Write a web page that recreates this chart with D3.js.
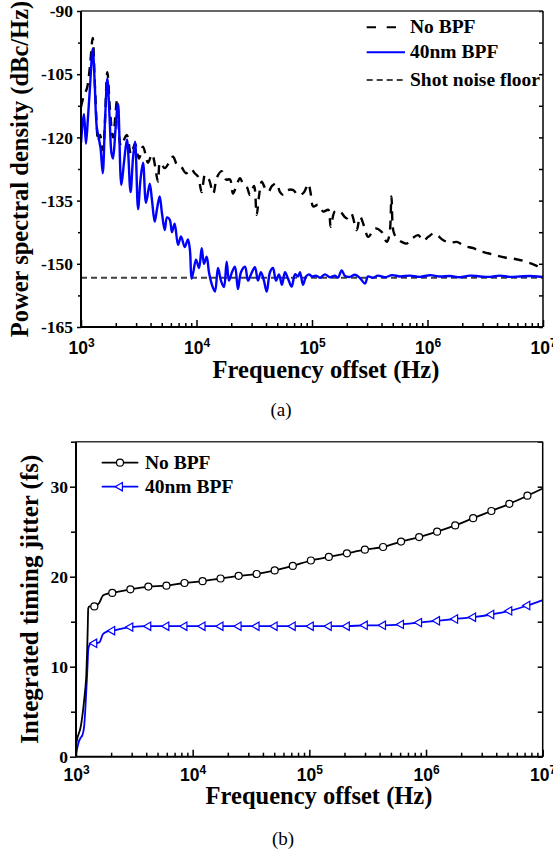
<!DOCTYPE html>
<html>
<head>
<meta charset="utf-8">
<script src="https://cdn.jsdelivr.net/npm/d3@7"></script>
<style>
  body { margin: 0; background: #fff; }
  svg { display: block; font-family: "Liberation Serif", "Times New Roman", serif; }
</style>
</head>
<body>
<div id="chart"></div>
<script>
// frequency offsets are stored as log10(Hz)

// (a) phase noise PSD
const psdLogF_noBPF = [3.000,3.026,3.052,3.078,3.101,3.121,3.150,3.165,3.190,3.228,3.251,3.277,3.314,3.346,3.396,3.433,3.468,3.502,3.537,3.580,3.615,3.667,3.684,3.725,3.762,3.797,3.831,3.868,3.909,3.952,3.984,4.013,4.045,4.074,4.108,4.145,4.177,4.218,4.255,4.290,4.316,4.351,4.377,4.403,4.435,4.463,4.498,4.521,4.541,4.565,4.593,4.622,4.654,4.694,4.723,4.752,4.792,4.838,4.870,4.896,4.931,4.968,4.987,5.011,5.052,5.098,5.141,5.162,5.199,5.242,5.300,5.338,5.387,5.416,5.450,5.487,5.545,5.603,5.647,5.671,5.688,5.706,5.736,5.777,5.820,5.866,5.920,5.961,6.007,6.056,6.137,6.195,6.253,6.325,6.397,6.455,6.526,6.593,6.671,6.749,6.829,6.905,6.974,7.000];
const psd_noBPF = [-112.8,-110,-108.3,-103,-96.4,-108,-121,-119.4,-123,-104.5,-113.5,-120,-111,-122,-119.4,-124,-121.5,-125,-122.2,-126,-124,-130.5,-126,-127.3,-126,-124.6,-126.5,-127,-128.5,-127.5,-128.5,-129.3,-133,-128.9,-130,-133.3,-129.5,-128,-130,-130,-133.3,-131,-129.7,-131,-131.7,-133.7,-131.5,-138.4,-134,-130.5,-132,-132.9,-131.5,-130.9,-133,-133.7,-132.5,-132.5,-133.5,-133.7,-133,-131,-133,-136.4,-136,-137.6,-137.2,-141.2,-137.5,-137.6,-139.2,-138,-142,-138.8,-141,-143.6,-141.6,-142.4,-144.8,-143,-134,-142.4,-144,-144.8,-145.2,-144,-143.2,-144.5,-143.6,-142.8,-144.4,-145,-144.8,-145.8,-146.3,-147,-147.5,-148,-148.5,-148.8,-149.3,-150,-150.8,-151];

const psdLogF_bpf = [3.000,3.013,3.026,3.043,3.061,3.078,3.101,3.117,3.136,3.152,3.169,3.188,3.208,3.228,3.247,3.264,3.277,3.299,3.320,3.349,3.372,3.398,3.429,3.450,3.468,3.494,3.515,3.537,3.563,3.595,3.615,3.638,3.658,3.681,3.701,3.725,3.745,3.768,3.788,3.811,3.840,3.866,3.898,3.926,3.944,3.957,3.972,3.996,4.022,4.045,4.065,4.088,4.108,4.134,4.160,4.186,4.212,4.238,4.261,4.281,4.307,4.333,4.359,4.385,4.420,4.446,4.472,4.506,4.532,4.558,4.584,4.608,4.636,4.662,4.688,4.714,4.740,4.766,4.792,4.824,4.853,4.879,4.896,4.922,4.948,4.974,5.000,5.035,5.069,5.113,5.156,5.199,5.225,5.257,5.286,5.329,5.372,5.416,5.459,5.485,5.528,5.571,5.632,5.693,5.762,5.848,5.935,6.022,6.108,6.195,6.281,6.368,6.455,6.541,6.628,6.714,6.801,6.887,7.000];
const psd_bpf = [-121.3,-117,-114.5,-121.5,-115,-108,-99,-106,-117.5,-120,-122.5,-128.5,-116,-106,-115,-123.7,-125,-118,-112,-131.3,-126,-120.5,-133,-125,-121,-137,-130,-126,-135.5,-131,-135,-140,-137,-134,-138,-142,-139,-139.5,-142.5,-140.5,-145.5,-143.5,-146,-144.2,-147,-153.5,-152,-149,-151,-146.3,-150,-148.3,-152,-155,-156.6,-151,-154,-155.5,-149.5,-154,-152,-150.7,-156,-152,-150.7,-154,-152.5,-150.8,-154,-152,-154,-156.6,-152,-151,-154,-152.5,-155,-152,-153.5,-155.4,-152.5,-153,-152,-155,-153,-152.5,-153,-152.8,-153.3,-152.5,-153.2,-152.8,-153.3,-151.6,-152.9,-153.1,-152.6,-153.4,-154.7,-153,-153.3,-152.8,-153.2,-152.7,-153,-152.8,-153.1,-152.7,-153,-152.9,-153.2,-152.8,-153,-153.1,-152.8,-153.1,-153,-152.9,-153.1];

const shotNoiseFloor = -153.3;
const psdTicks = [-90, -105, -120, -135, -150, -165];
const psdMinorTicks = [-97.5, -112.5, -127.5, -142.5, -157.5];

// (b) integrated timing jitter
const jitLogF = [3.000,3.010,3.025,3.040,3.055,3.070,3.080,3.088,3.095,3.100,3.105,3.115,3.130,3.157,3.200,3.230,3.265,3.311,3.466,3.620,3.775,3.930,4.085,4.239,4.394,4.548,4.703,4.858,5.013,5.167,5.322,5.476,5.632,5.786,5.941,6.095,6.250,6.404,6.560,6.714,6.869,7.000];
const jit_noBPF = [1.2,2.0,2.6,3.3,4.6,6.3,7.6,9.0,11.5,14.0,16.5,16.7,16.7,16.7,17.1,17.9,18.1,18.2,18.6,18.9,19.0,19.3,19.5,19.8,20.1,20.3,20.7,21.2,21.8,22.2,22.6,23.0,23.3,23.9,24.4,25.0,25.7,26.5,27.3,28.1,29.0,29.8];
const jit_bpf = [0.3,0.9,1.7,2.1,2.4,3.4,5.3,7.3,9.0,10.5,11.9,12.4,12.6,12.6,12.7,13.6,13.9,14.0,14.4,14.5,14.5,14.5,14.5,14.5,14.5,14.5,14.5,14.5,14.5,14.5,14.5,14.6,14.6,14.7,14.9,15.1,15.3,15.5,15.8,16.2,16.8,17.4];
const jitMarkLogF = [3.157,3.311,3.466,3.620,3.775,3.930,4.085,4.239,4.394,4.548,4.703,4.858,5.013,5.167,5.322,5.476,5.632,5.786,5.941,6.095,6.250,6.404,6.560,6.714,6.869];
const jitTicks = [0, 10, 20, 30];
const jitMinorTicks = [5, 15, 25, 35];

const freqTicks = [1e3, 1e4, 1e5, 1e6, 1e7];

const svg = d3.select("#chart").append("svg")
  .attr("width", 553)
  .attr("height", 859);

const blue = "#0000ff";
const tickFont = 17.5;

function psdRows(lf, v) { return lf.map((d, i) => ({f: Math.pow(10, d), lf: d, v: v[i]})); }

// power-of-ten labels under the x axis
function powLabels(g, dy) {
  g.selectAll(".tick text").remove();
  g.selectAll(".tick").append("text")
    .attr("y", dy)
    .attr("text-anchor", "middle")
    .attr("fill", "#000")
    .attr("font-weight", "bold")
    .attr("font-size", tickFont)
    .each(function(d) {
      const t = d3.select(this);
      t.append("tspan").text("10");
      t.append("tspan").attr("dy", -7).attr("font-size", 12).text(Math.round(Math.log10(d)));
    });
}

function styleAxis(g) {
  g.select(".domain").remove();
  g.selectAll(".tick line").attr("stroke", "#000").attr("stroke-width", 1.5);
  g.selectAll(".tick text")
    .attr("fill", "#000")
    .attr("font-weight", "bold")
    .attr("font-size", tickFont)
    .attr("font-family", "Liberation Serif, Times New Roman, serif");
}

function frame(g, w, h) {
  g.append("line").attr("x1", 0).attr("x2", w).attr("y1", 0).attr("y2", 0)
    .attr("stroke", "#333").attr("stroke-width", 1.5);
  g.append("line").attr("x1", w).attr("x2", w).attr("y1", 0).attr("y2", h)
    .attr("stroke", "#000").attr("stroke-width", 1.5);
  g.append("line").attr("x1", 0).attr("x2", 0).attr("y1", 0).attr("y2", h)
    .attr("stroke", "#000").attr("stroke-width", 2);
  g.append("line").attr("x1", 0).attr("x2", w).attr("y1", h).attr("y2", h)
    .attr("stroke", "#000").attr("stroke-width", 2);
}

function freqAxes(g, x, w, h, labelDy) {
  const minor = x.ticks().filter(d => !freqTicks.includes(d));
  g.append("g")
    .attr("transform", `translate(0, ${h})`)
    .call(d3.axisBottom(x).tickValues(minor).tickSize(-4).tickFormat(""))
    .call(styleAxis);
  g.append("g")
    .attr("transform", `translate(0, ${h})`)
    .call(d3.axisBottom(x).tickValues(freqTicks).tickSize(-7))
    .call(styleAxis)
    .call(a => powLabels(a, labelDy));
}

// ---------------- (a) ----------------
const mA = {top: 11, left: 81};
const wA = 462, hA = 316;
const gA = svg.append("g").attr("transform", `translate(${mA.left}, ${mA.top})`);

const xA = d3.scaleLog().domain([1e3, 1e7]).range([0, wA]);
const yA = d3.scaleLinear().domain([-165, -90]).range([hA, 0]);

gA.append("clipPath").attr("id", "clipA")
  .append("rect").attr("width", wA).attr("height", hA);

const lineA = d3.line()
  .x(d => xA(d.f))
  .y(d => yA(d.v))
  .curve(d3.curveCatmullRom);

const plotA = gA.append("g").attr("clip-path", "url(#clipA)");

plotA.append("path")
  .datum(psdRows(psdLogF_noBPF, psd_noBPF))
  .attr("fill", "none")
  .attr("stroke", "#000")
  .attr("stroke-width", 2.4)
  .attr("stroke-dasharray", "9,7")
  .attr("d", lineA);

plotA.append("line")
  .attr("x1", xA(1e3)).attr("x2", xA(1e7))
  .attr("y1", yA(shotNoiseFloor)).attr("y2", yA(shotNoiseFloor))
  .attr("stroke", "#404040")
  .attr("stroke-width", 2)
  .attr("stroke-dasharray", "6,4");

plotA.append("path")
  .datum(psdRows(psdLogF_bpf, psd_bpf))
  .attr("fill", "none")
  .attr("stroke", blue)
  .attr("stroke-width", 2.4)
  .attr("d", lineA);

gA.append("g")
  .call(d3.axisLeft(yA).tickValues(psdMinorTicks).tickSize(3).tickFormat(""))
  .call(styleAxis);
gA.append("g")
  .call(d3.axisLeft(yA).tickValues(psdTicks).tickSize(4).tickPadding(4).tickFormat(d => String(d)))
  .call(styleAxis);
gA.append("g")
  .attr("transform", `translate(${wA}, 0)`)
  .call(d3.axisRight(yA).tickValues(psdTicks.concat(psdMinorTicks)).tickSize(-4).tickFormat(""))
  .call(styleAxis);
freqAxes(gA, xA, wA, hA, 27);
frame(gA, wA, hA);

gA.append("text")
  .attr("transform", `translate(${28 - mA.left}, ${hA / 2}) rotate(-90)`)
  .attr("text-anchor", "middle")
  .attr("font-weight", "bold")
  .attr("font-size", 24.5)
  .text("Power spectral density (dBc/Hz)");

gA.append("text")
  .attr("x", 245)
  .attr("y", hA + 51)
  .attr("text-anchor", "middle")
  .attr("font-weight", "bold")
  .attr("font-size", 24.5)
  .text("Frequency offset (Hz)");

// legend (a)
const legA = gA.append("g").attr("transform", `translate(${366.7 - mA.left}, 0)`);
const legItemsA = [
  {label: "No BPF", stroke: "#000", dash: "9.3,10.7", y: 16.3},
  {label: "40nm BPF", stroke: blue, dash: null, y: 41.3},
  {label: "Shot noise floor", stroke: "#404040", dash: "6,4", y: 69}
];
legItemsA.forEach(it => {
  legA.append("line")
    .attr("x1", 0).attr("x2", 38.3)
    .attr("y1", it.y).attr("y2", it.y)
    .attr("stroke", it.stroke)
    .attr("stroke-width", 2)
    .attr("stroke-dasharray", it.dash);
  legA.append("text")
    .attr("x", 43.3)
    .attr("y", it.y + 6)
    .attr("font-weight", "bold")
    .attr("font-size", 19.5)
    .text(it.label);
});

svg.append("text")
  .attr("x", 281)
  .attr("y", 416)
  .attr("text-anchor", "middle")
  .attr("font-size", 19)
  .text("(a)");

// ---------------- (b) ----------------
const mB = {top: 441.7, left: 76};
const wB = 466.7, hB = 315;
const gB = svg.append("g").attr("transform", `translate(${mB.left}, ${mB.top})`);

const xB = d3.scaleLog().domain([1e3, 1e7]).range([0, wB]);
const yB = d3.scaleLinear().domain([0, 35]).range([hB, 0]);

const jitRows = jitLogF.map((d, i) => ({f: Math.pow(10, d), lf: d, a: jit_noBPF[i], b: jit_bpf[i]}));
const markRows = jitRows.filter(d => jitMarkLogF.includes(d.lf));

const lineNo = d3.line().x(d => xB(d.f)).y(d => yB(d.a)).curve(d3.curveMonotoneX);
const lineBp = d3.line().x(d => xB(d.f)).y(d => yB(d.b)).curve(d3.curveMonotoneX);

gB.append("path")
  .datum(jitRows)
  .attr("fill", "none")
  .attr("stroke", blue)
  .attr("stroke-width", 1.8)
  .attr("d", lineBp);

gB.append("path")
  .datum(jitRows)
  .attr("fill", "none")
  .attr("stroke", "#000")
  .attr("stroke-width", 1.8)
  .attr("d", lineNo);

const tri = d3.symbol().type(d3.symbolTriangle).size(30);

gB.selectAll(".tri")
  .data(markRows)
  .join("path")
  .attr("class", "tri")
  .attr("d", tri)
  .attr("transform", d => `translate(${xB(d.f)}, ${yB(d.b)}) rotate(-90)`)
  .attr("fill", "#fff")
  .attr("stroke", blue)
  .attr("stroke-width", 1.2);

gB.selectAll(".dot")
  .data(markRows)
  .join("circle")
  .attr("class", "dot")
  .attr("cx", d => xB(d.f))
  .attr("cy", d => yB(d.a))
  .attr("r", 3.5)
  .attr("fill", "#fff")
  .attr("stroke", "#000")
  .attr("stroke-width", 1.2);

gB.append("g")
  .call(d3.axisLeft(yB).tickValues(jitMinorTicks).tickSize(5).tickFormat(""))
  .call(styleAxis);
gB.append("g")
  .call(d3.axisLeft(yB).tickValues(jitTicks).tickSize(6).tickPadding(2).tickFormat(d => String(d)))
  .call(styleAxis);
gB.append("g")
  .attr("transform", `translate(${wB}, 0)`)
  .call(d3.axisRight(yB).tickValues(jitTicks.concat(jitMinorTicks)).tickSize(-5).tickFormat(""))
  .call(styleAxis);
freqAxes(gB, xB, wB, hB, 24);
frame(gB, wB, hB);

gB.append("text")
  .attr("transform", `translate(${38 - mB.left}, ${hB / 2}) rotate(-90)`)
  .attr("text-anchor", "middle")
  .attr("font-weight", "bold")
  .attr("font-size", 25)
  .text("Integrated timing jitter (fs)");

gB.append("text")
  .attr("x", 243)
  .attr("y", hB + 47)
  .attr("text-anchor", "middle")
  .attr("font-weight", "bold")
  .attr("font-size", 24.5)
  .text("Frequency offset (Hz)");

// legend (b)
const legB = gB.append("g").attr("transform", `translate(${101.7 - mB.left}, 0)`);
const legItemsB = [
  {label: "No BPF", stroke: "#000", sym: "circle", y: 21},
  {label: "40nm BPF", stroke: blue, sym: "tri", y: 45}
];
legItemsB.forEach(it => {
  legB.append("line")
    .attr("x1", 0).attr("x2", 36.6)
    .attr("y1", it.y).attr("y2", it.y)
    .attr("stroke", it.stroke)
    .attr("stroke-width", 1.8);
  if (it.sym === "circle") {
    legB.append("circle")
      .attr("cx", 18.3).attr("cy", it.y).attr("r", 3.5)
      .attr("fill", "#fff").attr("stroke", it.stroke).attr("stroke-width", 1.2);
  } else {
    legB.append("path")
      .attr("d", tri)
      .attr("transform", `translate(18.3, ${it.y}) rotate(-90)`)
      .attr("fill", "#fff").attr("stroke", it.stroke).attr("stroke-width", 1.2);
  }
  legB.append("text")
    .attr("x", 43.3)
    .attr("y", it.y + 6)
    .attr("font-weight", "bold")
    .attr("font-size", 19.5)
    .text(it.label);
});

svg.append("text")
  .attr("x", 283)
  .attr("y", 845)
  .attr("text-anchor", "middle")
  .attr("font-size", 19)
  .text("(b)");
</script>
</body>
</html>
